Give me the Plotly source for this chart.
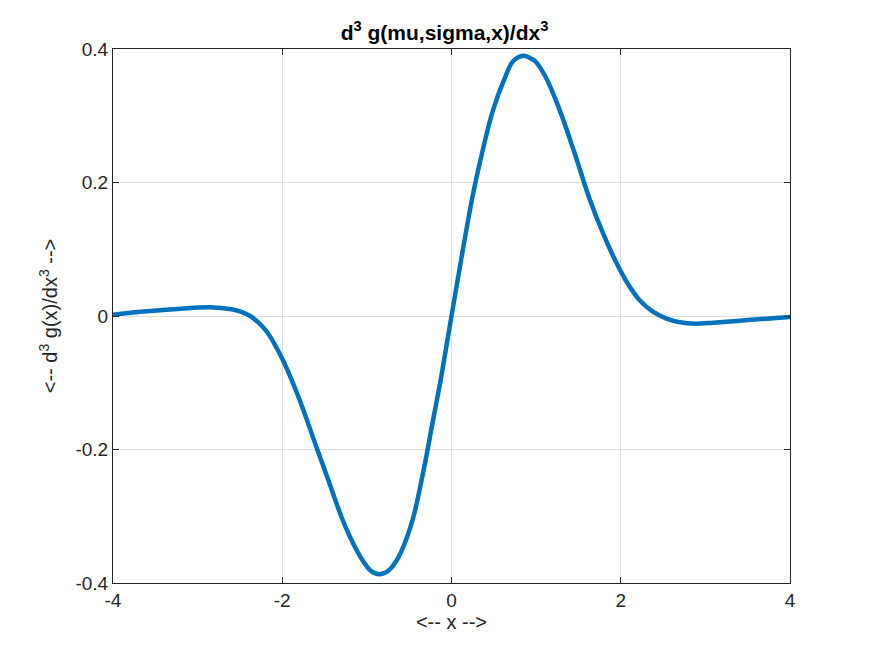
import plotly.graph_objects as go

x_vals = [-4.00, -3.60, -3.20, -2.85, -2.60, -2.50, -2.38, -2.28, -2.18, -2.00, -1.80,
          -1.60, -1.475, -1.259, -1.061, -0.95, -0.853, -0.75, -0.629, -0.47, -0.325, -0.23,
          -0.12, 0.00, 0.13, 0.25, 0.357, 0.487, 0.632, 0.73, 0.849, 0.95, 0.987, 1.117,
          1.283, 1.46, 1.63, 1.79, 1.94, 2.08, 2.22, 2.38, 2.54, 2.70,
          2.88, 3.09, 3.41, 3.72, 4.00]
y_vals = [0.002, 0.007, 0.011, 0.013, 0.010, 0.007, 0.000, -0.010, -0.024, -0.064, -0.124,
          -0.195, -0.239, -0.314, -0.364, -0.382, -0.387, -0.382, -0.362, -0.310, -0.228, -0.164,
          -0.090, 0.000, 0.096, 0.180, 0.242, 0.307, 0.357, 0.382, 0.390, 0.385, 0.382, 0.357,
          0.307, 0.242, 0.176, 0.124, 0.082, 0.049, 0.024, 0.0065, -0.004, -0.0095,
          -0.0115, -0.010, -0.007, -0.004, -0.0015]

x_ticks = [-4, -2, 0, 2, 4]
x_tick_labels = ["-4", "-2", "0", "2", "4"]
y_ticks = [-0.4, -0.2, 0, 0.2, 0.4]
y_tick_labels = ["-0.4", "-0.2", "0", "0.2", "0.4"]

font_family = "Liberation Sans, Arial, sans-serif"

fig = go.Figure()
fig.add_trace(go.Scatter(
    x=x_vals, y=y_vals, mode="lines",
    line=dict(color="#0072BD", width=4.5, shape="spline", smoothing=1.0),
    showlegend=False, hoverinfo="skip",
))

axis_common = dict(
    showline=True, linecolor="#262626", linewidth=1, mirror="ticks",
    ticks="inside", ticklen=6, tickwidth=1, tickcolor="#262626",
    showgrid=True, gridcolor="#dedede", gridwidth=1,
    zeroline=False,
    tickfont=dict(family=font_family, size=19, color="#262626"),
)

fig.update_layout(
    width=873, height=655,
    margin=dict(l=105, r=91, t=41, b=80),
    paper_bgcolor="white", plot_bgcolor="white",
    title=dict(
        text="<b>d<sup>3</sup> g(mu,sigma,x)/dx<sup>3</sup></b>",
        x=0.5, xanchor="center", y=0.962, yanchor="middle",
        font=dict(family=font_family, size=21, color="black"),
    ),
    xaxis=dict(
        range=[-4, 4], tickvals=x_ticks, ticktext=x_tick_labels,
        title=dict(text="<-- x -->", standoff=2,
                   font=dict(family=font_family, size=20, color="#262626")),
        **axis_common,
    ),
    yaxis=dict(
        range=[-0.4, 0.4], tickvals=y_ticks, ticktext=y_tick_labels,
        title=dict(text="<-- d<sup>3</sup> g(x)/dx<sup>3</sup> -->", standoff=12,
                   font=dict(family=font_family, size=20, color="#262626")),
        **axis_common,
    ),
)

fig.write_html("out.html")
